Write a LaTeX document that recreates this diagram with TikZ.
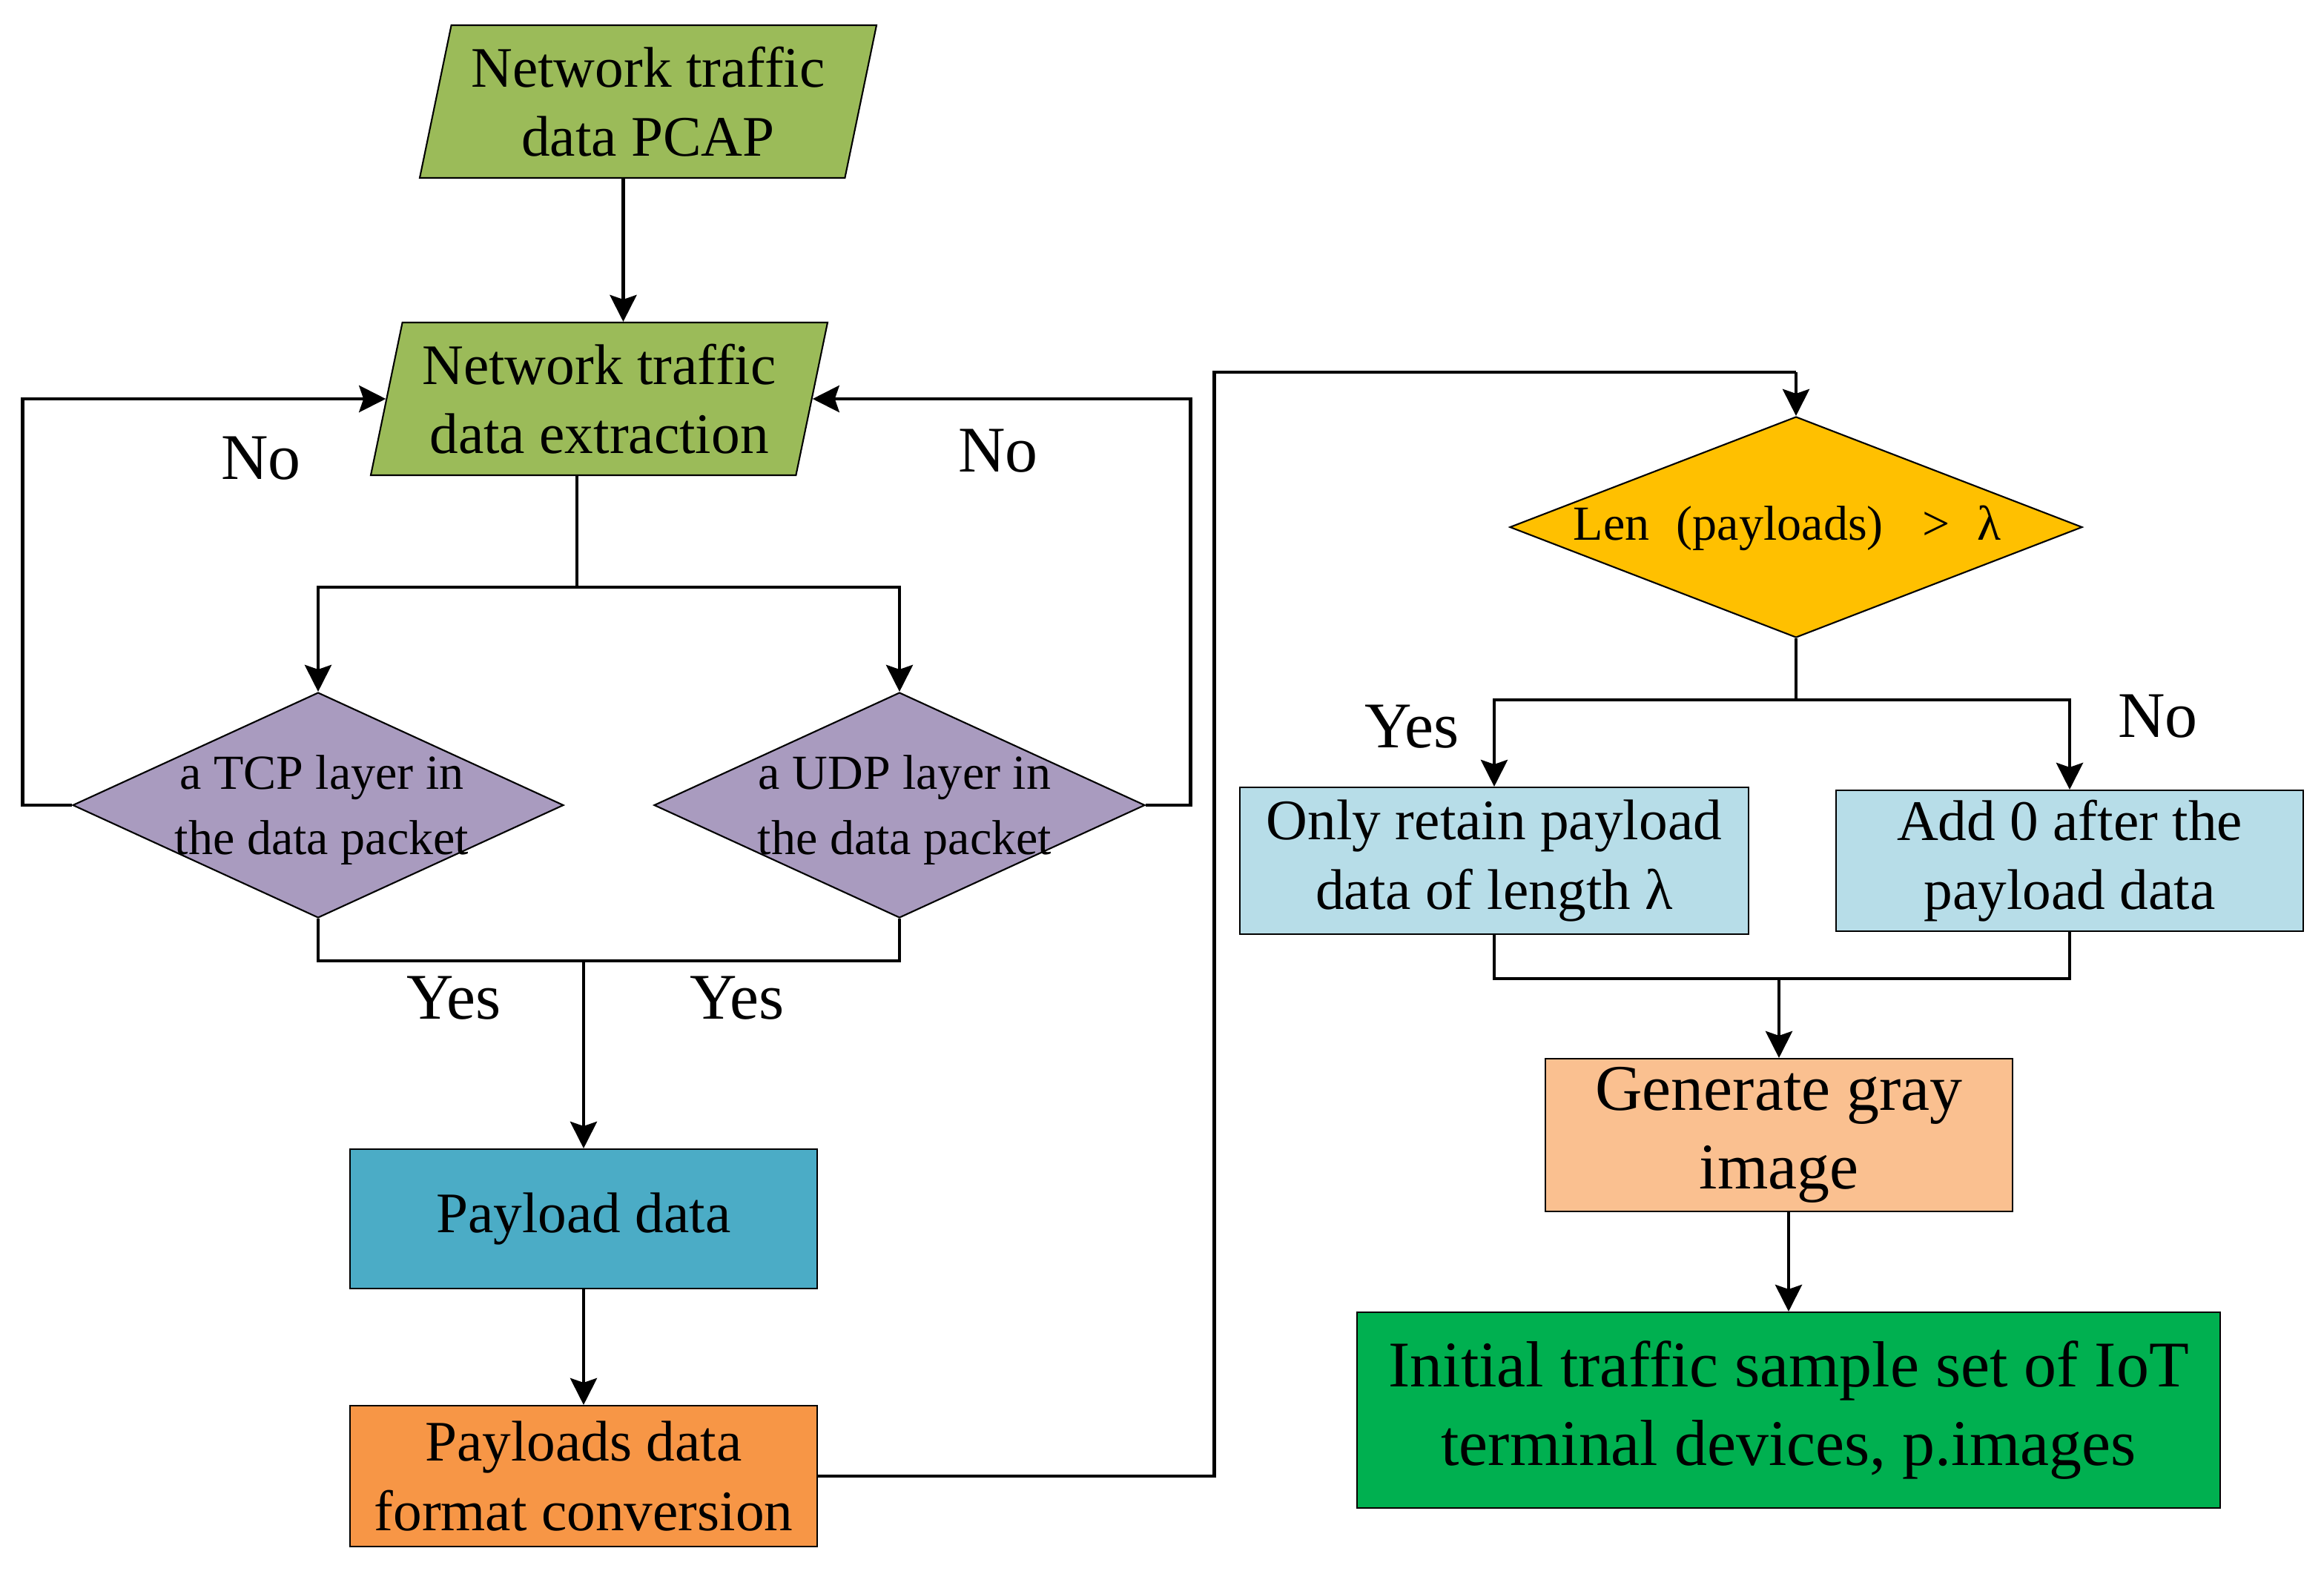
\documentclass[tikz,border=0pt]{standalone}
\usepackage{fontspec}
\setmainfont{Liberation Serif}
\usetikzlibrary{shapes.geometric,arrows.meta}
\definecolor{iogreen}{HTML}{9BBB59}
\definecolor{checkpurple}{HTML}{A99BBF}
\definecolor{lenyellow}{HTML}{FFC000}
\definecolor{payteal}{HTML}{4BACC6}
\definecolor{convorange}{HTML}{F79646}
\definecolor{padblue}{HTML}{B7DDE8}
\definecolor{graypeach}{HTML}{FAC090}
\definecolor{setgreen}{HTML}{00B050}
\newcommand{\mainsize}{\fontsize{11}{13.3}\selectfont}
\newcommand{\smallsize}{\fontsize{9.4}{12.5}\selectfont}
\newcommand{\bigsize}{\fontsize{12.5}{15}\selectfont}
\begin{document}
\begin{tikzpicture}[
    io/.style={trapezium, trapezium left angle=74, trapezium right angle=106,
      trapezium stretches body, draw, line width=0.3pt, fill=iogreen,
      minimum width=3.08cm, minimum height=1.03cm, inner sep=0pt,
      align=center, font=\mainsize},
    check/.style={diamond, draw, line width=0.3pt, inner sep=0pt},
    box/.style={rectangle, draw, line width=0.3pt, inner sep=0pt, align=center, font=\mainsize},
    lbl/.style={font=\bigsize, inner sep=0pt},
    line/.style={line width=0.7pt},
    arr/.style={line, -{Stealth[length=1.8mm,width=1.8mm,inset=0.3mm]}}]
  \useasboundingbox (0,0) rectangle (15.67,-10.59);

  % left column
  \node[io] (pcap) at (4.37,-0.685) {Network traffic\\data PCAP};
  \node[io] (extract) at (4.04,-2.69) {Network traffic\\data extraction};
  \node[check, fill=checkpurple, minimum width=3.31cm, minimum height=1.52cm] (tcp) at (2.145,-5.43) {};
  \node[check, fill=checkpurple, minimum width=3.31cm, minimum height=1.52cm] (udp) at (6.065,-5.43) {};
  \node[align=center, font=\smallsize] (tcptext) at (2.17,-5.465) {a TCP layer in\\the data packet};
  \node[align=center, font=\smallsize] (udptext) at (6.10,-5.465) {a UDP layer in\\the data packet};
  \node[box, fill=payteal, minimum width=3.15cm, minimum height=0.94cm] (payload) at (3.935,-8.22) {Payload data};
  \node[box, fill=convorange, minimum width=3.15cm, minimum height=0.95cm] (format) at (3.935,-9.955) {Payloads data\\format conversion};

  % right column
  \node[check, fill=lenyellow, minimum width=3.86cm, minimum height=1.49cm] (len) at (12.11,-3.555) {};
  \node[font=\smallsize] (lentext) at (12.05,-3.56) {Len\hspace{0.55em}(payloads)\hspace{0.8em}>\hspace{0.55em}λ};
  \node[box, fill=padblue, minimum width=3.43cm, minimum height=0.99cm] (keep) at (10.075,-5.805) {Only retain payload\\data of length λ};
  \node[box, fill=padblue, minimum width=3.15cm, minimum height=0.95cm] (pad) at (13.955,-5.805) {Add 0 after the\\payload data};
  \node[box, fill=graypeach, minimum width=3.15cm, minimum height=1.03cm, font=\bigsize] (gray) at (11.995,-7.655) {Generate gray\\image};
  \node[box, fill=setgreen, minimum width=5.82cm, minimum height=1.32cm, font=\bigsize] (final) at (12.06,-9.51) {Initial traffic sample set of IoT\\terminal devices, p.images};

  % branch labels
  \node[lbl] (noleft) at (1.76,-3.09) {No};
  \node[lbl] (noright) at (6.73,-3.04) {No};
  \node[lbl] (yestcp) at (3.06,-6.73) {Yes};
  \node[lbl] (yesudp) at (4.97,-6.73) {Yes};
  \node[lbl] (yeskeep) at (9.52,-4.90) {Yes};
  \node[lbl] (nopad) at (14.55,-4.83) {No};

  % connectors
  \coordinate (split) at (3.89,-3.96);
  \coordinate (join) at (3.935,-6.48);
  \coordinate (lenin) at (12.11,-2.51);
  \coordinate (lensplit) at (12.11,-4.72);
  \coordinate (merge) at (11.995,-6.60);
  \draw[arr] ([xshift=-0.6mm]pcap.bottom side) -- ([xshift=-0.6mm]pcap.bottom side |- extract.top side);
  \draw[line] (extract.bottom side -| split) -- (split);
  \draw[arr] (split) -| (tcp.north);
  \draw[arr] (split) -| (udp.north);
  \draw[arr] (tcp.west) -- ++(-0.33,0) |- (extract.left side);
  \draw[arr] (udp.east) -- ++(0.30,0) |- (extract.right side);
  \draw[line] (tcp.south) |- (join) -| (udp.south);
  \draw[arr] (join) -- (payload.north);
  \draw[arr] (payload) -- (format);
  \draw[line] (format.east) -- ++(2.67,0) |- (lenin);
  \draw[arr] (lenin) -- (len.north);
  \draw[line] (len.south) -- (lensplit);
  \draw[arr] (lensplit) -| (keep.north);
  \draw[arr] (lensplit) -| (pad.north);
  \draw[line] (keep.south) |- (merge) -| (pad.south);
  \draw[arr] (merge) -- (gray.north);
  \draw[arr] (gray.south -| final.north) -- (final.north);
\end{tikzpicture}
\end{document}
